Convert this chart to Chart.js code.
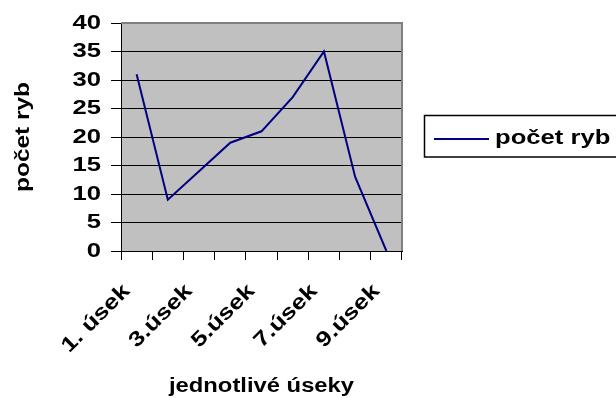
<!DOCTYPE html>
<html>
<head>
<meta charset="utf-8">
<script src="https://cdn.jsdelivr.net/npm/chart.js@4/dist/chart.umd.min.js"></script>
<style>
  html, body { margin: 0; padding: 0; background: #fff; overflow: hidden; }
  #c { display: block; }
</style>
</head>
<body>
<canvas id="c" width="616" height="398"></canvas>
<script>
// Sections of the stream and the number of fish counted in each
const categories = ['1. úsek', '2.úsek', '3.úsek', '4.úsek', '5.úsek', '6.úsek', '7.úsek', '8.úsek', '9.úsek'];
const fishCounts = [31, 9, 14, 19, 21, 27, 35, 13, 0];
const seriesName = 'počet ryb';
const xTitle = 'jednotlivé úseky';
const yTitle = 'počet ryb';
const yMin = 0;
const yMax = 40;
const yStep = 5;

const FONT = "'Liberation Sans', Arial, sans-serif";
const TEXT_STRETCH = 1.22; // wide lettering: glyphs are widened along their baseline

// Widen every text run along its own baseline (works for rotated labels too)
function widenText(ctx, k) {
  const fill = ctx.fillText;
  const measure = ctx.measureText;
  ctx.fillText = function (text, x, y, maxWidth) {
    this.save();
    this.translate(x, y);
    this.scale(k, 1);
    if (maxWidth === undefined) fill.call(this, text, 0, 0);
    else fill.call(this, text, 0, 0, maxWidth / k);
    this.restore();
  };
  ctx.measureText = function (text) {
    const m = measure.call(this, text);
    return {
      width: m.width * k,
      actualBoundingBoxAscent: m.actualBoundingBoxAscent,
      actualBoundingBoxDescent: m.actualBoundingBoxDescent,
      actualBoundingBoxLeft: m.actualBoundingBoxLeft * k,
      actualBoundingBoxRight: m.actualBoundingBoxRight * k,
      fontBoundingBoxAscent: m.fontBoundingBoxAscent,
      fontBoundingBoxDescent: m.fontBoundingBoxDescent
    };
  };
}

const canvas = document.getElementById('c');
widenText(canvas.getContext('2d'), TEXT_STRETCH);

// Grey plot background and the grey top/right frame
const plotFrame = {
  id: 'plotFrame',
  beforeDraw(chart) {
    const { ctx, chartArea: a } = chart;
    ctx.save();
    ctx.fillStyle = '#C0C0C0';
    ctx.fillRect(a.left, a.top, a.right - a.left, a.bottom - a.top);
    ctx.restore();
  },
  beforeDatasetsDraw(chart) {
    const { ctx, chartArea: a } = chart;
    ctx.save();
    ctx.strokeStyle = '#808080';
    ctx.lineWidth = 2;
    ctx.beginPath();
    ctx.moveTo(a.left, a.top);
    ctx.lineTo(a.right, a.top);
    ctx.lineTo(a.right, a.bottom);
    ctx.stroke();
    ctx.restore();
  }
};

// Boxed legend to the right of the plot
const boxedLegend = {
  id: 'boxedLegend',
  afterDraw(chart) {
    const { ctx } = chart;
    const ds = chart.data.datasets[0];
    ctx.save();
    ctx.strokeStyle = '#000';
    ctx.lineWidth = 1.5;
    ctx.strokeRect(424.5, 115.5, 240, 41.5);
    ctx.strokeStyle = ds.borderColor;
    ctx.lineWidth = 2;
    ctx.beginPath();
    ctx.moveTo(434, 139);
    ctx.lineTo(489, 139);
    ctx.stroke();
    ctx.fillStyle = '#000';
    ctx.font = 'bold 21px ' + FONT;
    ctx.textBaseline = 'middle';
    ctx.textAlign = 'left';
    ctx.fillText(ds.label, 495, 138);
    ctx.restore();
  }
};

new Chart(canvas, {
  type: 'line',
  data: {
    labels: categories,
    datasets: [{
      label: seriesName,
      data: fishCounts,
      borderColor: '#000080',
      borderWidth: 2,
      pointRadius: 0,
      tension: 0,
      fill: false
    }]
  },
  options: {
    responsive: false,
    animation: false,
    events: [],
    layout: { padding: { top: 23, right: 214, left: 0, bottom: 0 } },
    plugins: { legend: { display: false }, tooltip: { enabled: false } },
    scales: {
      x: {
        offset: true,
        grid: { offset: true, drawOnChartArea: false, drawTicks: true, tickLength: 9, color: '#000' },
        border: { color: '#000', width: 1 },
        ticks: {
          autoSkip: false,
          minRotation: 45,
          maxRotation: 45,
          padding: 19,
          labelOffset: -10,
          color: '#000',
          font: { family: FONT, size: 21, weight: 'bold' },
          callback: (v, i) => (i % 2 === 0 ? categories[i] : '')
        },
        title: {
          display: true,
          text: xTitle,
          color: '#000',
          font: { family: FONT, size: 19.5, weight: 'bold' },
          padding: { top: 0, bottom: 0 }
        },
        afterFit(scale) { scale.height = 147; }
      },
      y: {
        min: yMin,
        max: yMax,
        grid: {
          color: (c) => (c.tick && c.tick.value === yMax ? '#808080' : '#000'),
          tickColor: '#000',
          lineWidth: 1,
          drawTicks: true,
          tickLength: 10
        },
        border: { color: '#000', width: 1 },
        ticks: {
          stepSize: yStep,
          padding: 10,
          color: '#000',
          font: { family: FONT, size: 21, weight: 'bold' }
        },
        title: {
          display: true,
          text: yTitle,
          color: '#000',
          font: { family: FONT, size: 20, weight: 'bold' },
          padding: { top: 11, bottom: 0 }
        },
        afterFit(scale) { scale.width = 121; }
      }
    }
  },
  plugins: [plotFrame, boxedLegend]
});
</script>
</body>
</html>
